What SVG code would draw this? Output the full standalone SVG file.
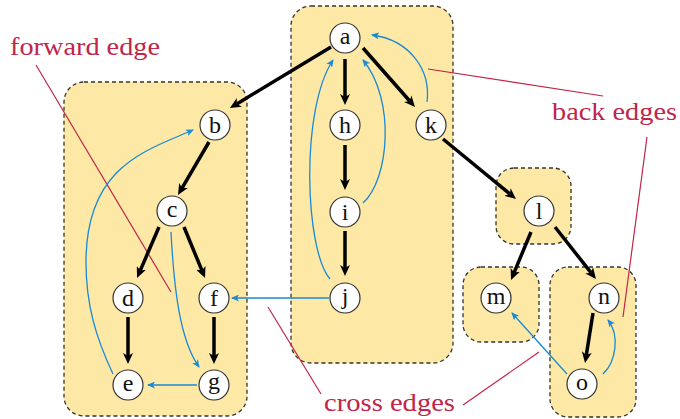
<svg xmlns="http://www.w3.org/2000/svg" width="680" height="419" viewBox="0 0 680 419">
  <style>
    .box { fill: #fde8a6; stroke: #333; stroke-width: 1.3; stroke-dasharray: 4 3; }
    .node circle { fill: #fff; stroke: #333; stroke-width: 1.2; }
    .node text { font-family: "Liberation Serif", "Times New Roman", serif; font-size: 24px; text-anchor: middle; fill: #111; }
    .tree { stroke: #000; stroke-width: 3.5; fill: none; marker-end: url(#arrowTree); }
    .nontree { stroke: #1a8ad4; stroke-width: 1.3; fill: none; marker-end: url(#arrowBlue); }
    .pointer { stroke: #c0254a; stroke-width: 1.2; fill: none; }
    .label { font-family: "Liberation Serif", "Times New Roman", serif; font-size: 25px; fill: #c0254a; }
  </style>
  <defs>
    <marker id="arrowTree" markerUnits="userSpaceOnUse" viewBox="0 0 11 10" markerWidth="11" markerHeight="10" refX="3" refY="5" orient="auto">
      <path d="M0,0 L11,5 L0,10 L3,5 Z" fill="#000"/>
    </marker>
    <marker id="arrowBlue" markerUnits="userSpaceOnUse" viewBox="0 0 8 7" markerWidth="8" markerHeight="7" refX="7" refY="3.5" orient="auto">
      <path d="M0,0 L8,3.5 L0,7 L2,3.5 Z" fill="#1a8ad4"/>
    </marker>
  </defs>

  <!-- strongly connected components -->
  <g id="components">
    <rect class="box" x="64" y="82" width="183" height="334" rx="20"/>
    <rect class="box" x="291" y="6" width="162" height="357" rx="20"/>
    <rect class="box" x="496" y="168" width="75" height="76" rx="18"/>
    <rect class="box" x="463" y="267" width="76" height="75" rx="18"/>
    <rect class="box" x="550" y="267" width="86" height="150" rx="18"/>
  </g>

  <!-- annotation pointers -->
  <g id="pointers">
    <line class="pointer" x1="36" y1="65" x2="171" y2="292"/>
    <line class="pointer" x1="428" y1="69" x2="603" y2="96"/>
    <line class="pointer" x1="647" y1="137" x2="623" y2="317"/>
    <line class="pointer" x1="268" y1="307" x2="321" y2="394"/>
    <line class="pointer" x1="463" y1="405" x2="539" y2="352"/>
  </g>

  <g id="connectors">
    <!-- tree edges -->
    <line class="tree" x1="331" y1="47" x2="236.8" y2="103.9"/>
    <line class="tree" x1="345" y1="59" x2="345" y2="97"/>
    <line class="tree" x1="363" y1="48" x2="409.7" y2="101"/>
    <line class="tree" x1="345" y1="145" x2="345" y2="182"/>
    <line class="tree" x1="345" y1="231" x2="345" y2="268"/>
    <line class="tree" x1="443" y1="139" x2="509.8" y2="193.9"/>
    <line class="tree" x1="209" y1="142" x2="182" y2="188.1"/>
    <line class="tree" x1="159" y1="227" x2="140.2" y2="270.6"/>
    <line class="tree" x1="184" y1="227" x2="202" y2="270.6"/>
    <line class="tree" x1="128" y1="317" x2="128" y2="356"/>
    <line class="tree" x1="214" y1="317" x2="214" y2="356"/>
    <line class="tree" x1="531" y1="232" x2="514.1" y2="272.6"/>
    <line class="tree" x1="555" y1="227" x2="591" y2="272.7"/>
    <line class="tree" x1="593" y1="313" x2="586.3" y2="355.1"/>
    <!-- back, forward and cross edges -->
    <path class="nontree" d="M427,102 C431,70 410,40 372,35"/>
    <path class="nontree" d="M330,279 C305,250 300,110 333,60"/>
    <path class="nontree" d="M363,203 C389,180 396,100 363,60"/>
    <path class="nontree" d="M329,298 L232,298"/>
    <path class="nontree" d="M113,374 C96,338 86,305 86,262 C86,165 148,150 193,130"/>
    <path class="nontree" d="M171,232 C174,290 180,340 199,367"/>
    <path class="nontree" d="M197,385 L148,385"/>
    <path class="nontree" d="M567,374 L512,313"/>
    <path class="nontree" d="M603,374 C616,362 620,335 608,320"/>
  </g>

  <g id="node-a" class="node"><circle cx="345" cy="38" r="15"/><text x="345" y="44">a</text></g>
  <g id="node-h" class="node"><circle cx="345" cy="125" r="15"/><text x="345" y="133">h</text></g>
  <g id="node-k" class="node"><circle cx="431" cy="125" r="15"/><text x="431" y="133">k</text></g>
  <g id="node-i" class="node"><circle cx="345" cy="212" r="15"/><text x="345" y="220">i</text></g>
  <g id="node-j" class="node"><circle cx="345" cy="298" r="15"/><text x="345" y="304">j</text></g>
  <g id="node-b" class="node"><circle cx="215" cy="125" r="15"/><text x="215" y="133">b</text></g>
  <g id="node-c" class="node"><circle cx="172" cy="211" r="15"/><text x="172" y="217">c</text></g>
  <g id="node-d" class="node"><circle cx="128" cy="298" r="15"/><text x="128" y="306">d</text></g>
  <g id="node-f" class="node"><circle cx="214" cy="298" r="15"/><text x="214" y="306">f</text></g>
  <g id="node-e" class="node"><circle cx="128" cy="385" r="15"/><text x="128" y="391">e</text></g>
  <g id="node-g" class="node"><circle cx="214" cy="385" r="15"/><text x="214" y="389">g</text></g>
  <g id="node-l" class="node"><circle cx="539" cy="211" r="15"/><text x="539" y="219">l</text></g>
  <g id="node-m" class="node"><circle cx="496" cy="298" r="15"/><text x="496" y="304">m</text></g>
  <g id="node-n" class="node"><circle cx="604" cy="298" r="15"/><text x="604" y="304">n</text></g>
  <g id="node-o" class="node"><circle cx="582" cy="384" r="15"/><text x="582" y="390">o</text></g>

  <g id="labels">
    <text class="label" x="10" y="55" textLength="150" lengthAdjust="spacingAndGlyphs">forward edge</text>
    <text class="label" x="552" y="120" textLength="125" lengthAdjust="spacingAndGlyphs">back edges</text>
    <text class="label" x="324" y="411" textLength="131" lengthAdjust="spacingAndGlyphs">cross edges</text>
  </g>
</svg>
